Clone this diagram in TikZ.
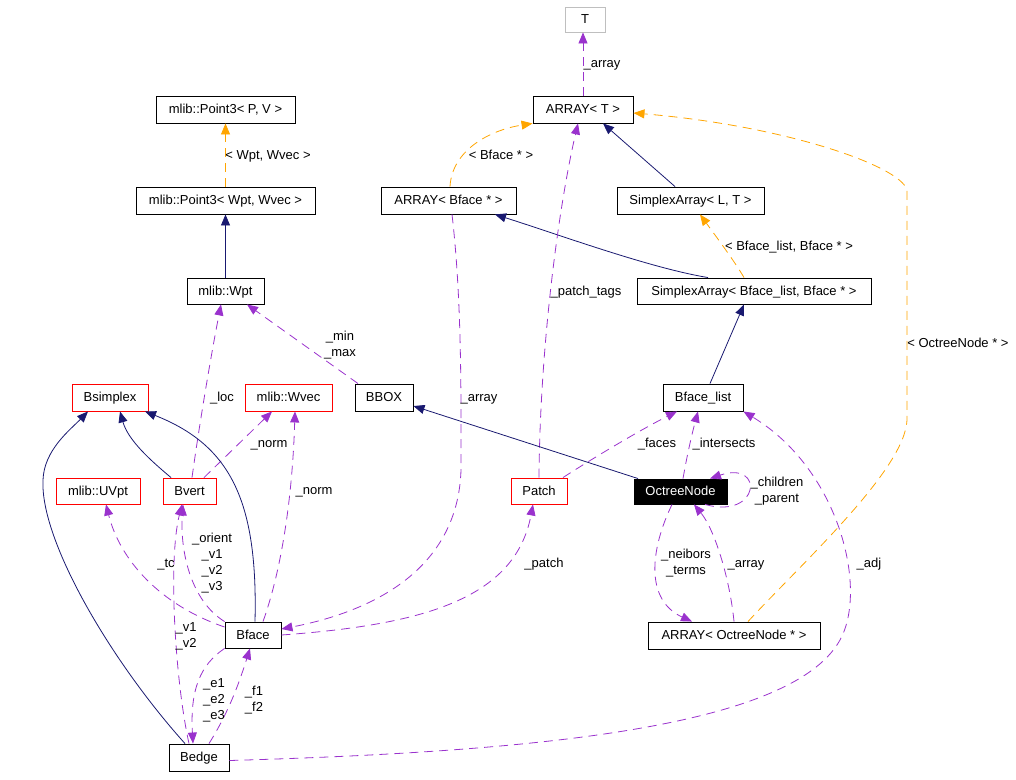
\documentclass[tikz,border=0pt]{standalone}
\usepackage{fontspec}
\setmainfont{Liberation Sans}
\usetikzlibrary{arrows.meta}
\definecolor{navy}{RGB}{25,25,112}
\definecolor{orchid}{RGB}{154,50,205}
\definecolor{tmplorange}{RGB}{255,165,0}
\definecolor{boxgray}{RGB}{191,191,191}
\begin{document}
\begin{tikzpicture}[x=1pt,y=-1pt,
  font=\fontsize{13}{16}\selectfont,
  box/.style={draw=black, line width=0.9pt, inner sep=0pt, text height=9.5pt, text depth=1.5pt, fill=white},
  redbox/.style={box, draw=red},
  lbl/.style={inner sep=0pt, align=center, yshift=-1pt},
  tip/.style={-{Triangle[length=11pt,width=9pt]}},
  inh/.style={tip, draw=navy, line width=0.8pt},
  use/.style={tip, draw=orchid, line width=0.8pt, dash pattern=on 9pt off 6pt},
  tmpl/.style={tip, draw=tmplorange, line width=0.8pt, dash pattern=on 9pt off 6pt},
]
\useasboundingbox (0,0) rectangle (1016,779);

% nodes
\node[box, draw=boxgray, minimum width=40pt, minimum height=25pt] (T) at (585,19.5) {T};
\node[box, minimum width=100pt, minimum height=27pt] (arrT) at (583,109.5) {ARRAY< T >};
\node[box, minimum width=139pt, minimum height=27pt] (p3pv) at (225.5,109.5) {mlib::Point3< P, V >};
\node[box, minimum width=179pt, minimum height=27pt] (p3w) at (225.5,200.5) {mlib::Point3< Wpt, Wvec >};
\node[box, minimum width=135pt, minimum height=27pt] (arrBf) at (448.5,200.5) {ARRAY< Bface * >};
\node[box, minimum width=147pt, minimum height=27pt] (saLT) at (690.5,200.5) {SimplexArray< L, T >};
\node[box, minimum width=234pt, minimum height=26pt] (saBL) at (754,291) {SimplexArray< Bface\_list, Bface * >};
\node[box, minimum width=77pt, minimum height=26pt] (wpt) at (225.5,291) {mlib::Wpt};
\node[redbox, minimum width=76pt, minimum height=27pt] (bsimplex) at (110,397.5) {Bsimplex};
\node[redbox, minimum width=87pt, minimum height=27pt] (wvec) at (288.5,397.5) {mlib::Wvec};
\node[box, minimum width=58pt, minimum height=27pt] (bbox) at (384,397.5) {BBOX};
\node[box, minimum width=80pt, minimum height=27pt] (bflist) at (703,397.5) {Bface\_list};
\node[redbox, minimum width=84pt, minimum height=26pt] (uvpt) at (98,491) {mlib::UVpt};
\node[redbox, minimum width=53pt, minimum height=26pt] (bvert) at (189.5,491) {Bvert};
\node[redbox, minimum width=56pt, minimum height=26pt] (patch) at (539,491) {Patch};
\node[box, fill=black, text=white, minimum width=93pt, minimum height=25pt] (octree) at (680.5,491.5) {OctreeNode};
\node[box, minimum width=56pt, minimum height=26pt] (bface) at (253,635) {Bface};
\node[box, minimum width=172pt, minimum height=27pt] (arrON) at (734,635.5) {ARRAY< OctreeNode * >};
\node[box, minimum width=60pt, minimum height=27pt] (bedge) at (199,757.5) {Bedge};

% connectors
\draw[use] (arrT.north) -- ([xshift=-2pt]T.south);
\draw[tmpl] (p3w.north) -- (p3pv.south);
\draw[inh] (wpt.north) -- (p3w.south);
\draw[tmpl] ([xshift=1.5pt]arrBf.north) .. controls (452,150) and (490,130) .. (arrT.south west);
\draw[inh] ([xshift=-15.5pt]saLT.north) -- ([xshift=20pt]arrT.south);
\draw[inh] ([xshift=-46pt]saBL.north) .. controls (650,268) and (560,235) .. ([xshift=46.5pt]arrBf.south);
\draw[tmpl] ([xshift=-10pt]saBL.north) .. controls (735,262) and (715,235) .. ([xshift=9.5pt]saLT.south);
\draw[inh] ([xshift=7pt]bflist.north) -- ([xshift=-10pt]saBL.south);
\draw[tmpl] ([xshift=14pt]arrON.north) .. controls (800,565) and (905,470) .. (907,420) -- (907,190) .. controls (900,165) and (780,125) .. ([yshift=-3.5pt]arrT.east);
\draw[use] ([xshift=-26pt]bbox.north) -- ([xshift=21.5pt]wpt.south);
\draw[use] ([xshift=2.5pt]bvert.north) .. controls (200,420) and (212,350) .. ([xshift=-4.5pt]wpt.south);
\draw[inh] ([xshift=-18.5pt]bvert.north) .. controls (150,460) and (128,440) .. ([xshift=10pt]bsimplex.south);
\draw[use] ([xshift=14.5pt]bvert.north) -- ([xshift=-16.5pt]wvec.south);
\draw[use] ([xshift=10pt]bface.north) .. controls (285,560) and (293,480) .. ([xshift=6.5pt]wvec.south);
\draw[inh] ([xshift=2pt]bface.north) .. controls (258,500) and (230,445) .. ([xshift=35pt]bsimplex.south);
\draw[inh] ([xshift=-14pt]bedge.north) .. controls (110,660) and (40,540) .. (43,480) .. controls (44,450) and (70,430) .. ([xshift=-22pt]bsimplex.south);
\draw[use] ([yshift=8pt]bface.west) .. controls (160,605) and (120,560) .. ([xshift=8pt]uvpt.south);
\draw[use] (bface.north west) .. controls (190,600) and (180,550) .. ([xshift=-6.5pt]bvert.south);
\draw[use] ([xshift=-10pt]bedge.north) .. controls (175,680) and (168,560) .. ([xshift=-7.5pt]bvert.south);
\draw[use] (bface.south west) .. controls (200,665) and (190,690) .. ([xshift=-6pt]bedge.north);
\draw[use] ([xshift=10pt]bedge.north) .. controls (230,710) and (240,680) .. ([xshift=-3pt]bface.south);
\draw[use] ([xshift=3.5pt]arrBf.south) .. controls (462,300) and (461,400) .. (461,470) .. controls (458,565) and (380,610) .. ([yshift=6pt]bface.east);
\draw[use] (bface.east) .. controls (420,625) and (515,600) .. ([xshift=-6pt]patch.south);
\draw[use] (patch.north) .. controls (540,340) and (560,200) .. ([xshift=-5pt]arrT.south);
\draw[use] ([xshift=24pt]patch.north) .. controls (590,460) and (640,430) .. ([xshift=-26pt]bflist.south);
\draw[use] ([xshift=2.5pt]octree.north) .. controls (688,450) and (693,430) .. ([xshift=-5pt]bflist.south);
\draw[inh] ([xshift=-42.5pt]octree.north) -- ([yshift=-8.5pt]bbox.east);
\draw[use] ([xshift=24.5pt]octree.south) .. controls (760,520) and (765,460) .. ([xshift=29.5pt]octree.north);
\draw[use] ([xshift=-8.5pt]octree.south) .. controls (650,550) and (645,600) .. ([xshift=-42pt]arrON.north);
\draw[use] (arrON.north) .. controls (730,580) and (715,530) .. ([xshift=13.5pt]octree.south);
\draw[use] ([yshift=-3pt]bedge.east) .. controls (520,752) and (790,730) .. (840,640) .. controls (868,590) and (840,470) .. (bflist.south east);

% labels
\node[lbl] (l1) at (602,63) {\strut\_array};
\node[lbl] (l2) at (268,155) {\strut< Wpt, Wvec >};
\node[lbl] (l3) at (501,155) {\strut< Bface * >};
\node[lbl] (l4) at (789,246) {\strut< Bface\_list, Bface * >};
\node[lbl] (l5) at (958,343) {\strut< OctreeNode * >};
\node[lbl] (l6) at (340,344) {\strut\_min\\\strut\_max};
\node[lbl] (l7) at (222,397) {\strut\_loc};
\node[lbl] (l8) at (269,443) {\strut\_norm};
\node[lbl] (l9) at (314,490) {\strut\_norm};
\node[lbl] (l10) at (166,563) {\strut\_tc};
\node[lbl] (l11) at (212,562) {\strut\_orient\\\strut\_v1\\\strut\_v2\\\strut\_v3};
\node[lbl] (l12) at (186,635) {\strut\_v1\\\strut\_v2};
\node[lbl] (l13) at (214,699) {\strut\_e1\\\strut\_e2\\\strut\_e3};
\node[lbl] (l14) at (254,699) {\strut\_f1\\\strut\_f2};
\node[lbl] (l15) at (479,397) {\strut\_array};
\node[lbl] (l16) at (544,563) {\strut\_patch};
\node[lbl] (l17) at (586,291) {\strut\_patch\_tags};
\node[lbl] (l18) at (657,443) {\strut\_faces};
\node[lbl] (l19) at (724,443) {\strut\_intersects};
\node[lbl] (l20) at (777,490) {\strut\_children\\\strut\_parent};
\node[lbl] (l21) at (686,562) {\strut\_neibors\\\strut\_terms};
\node[lbl] (l22) at (746,563) {\strut\_array};
\node[lbl] (l23) at (869,563) {\strut\_adj};
\end{tikzpicture}
\end{document}
